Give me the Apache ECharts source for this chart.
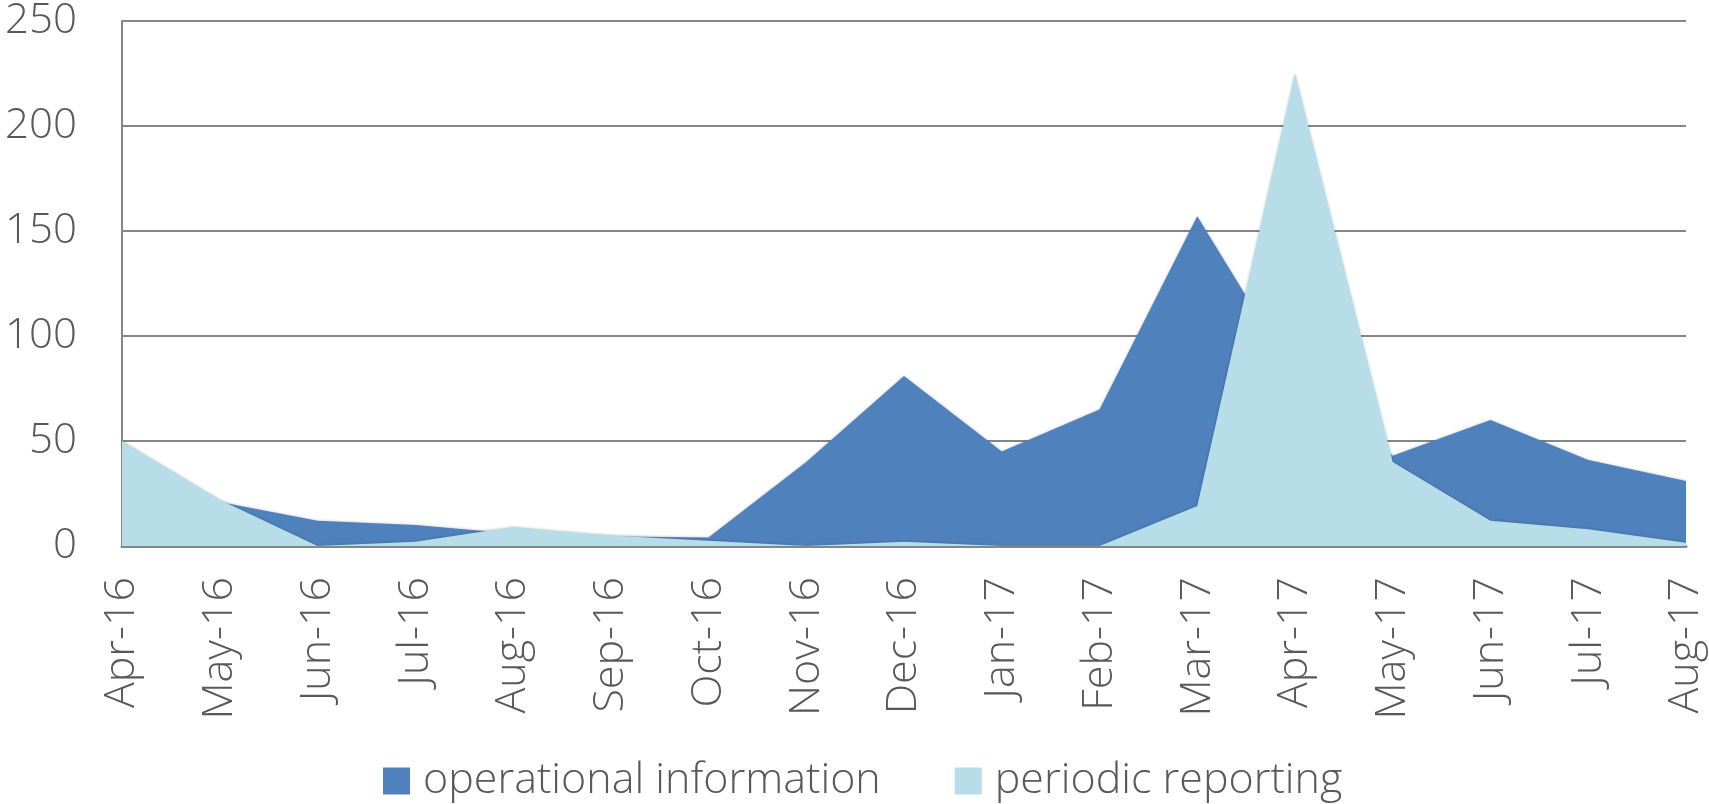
<!DOCTYPE html>
<html>
<head>
<meta charset="utf-8">
<script src="https://cdn.jsdelivr.net/npm/echarts@6/dist/echarts.min.js"></script>
<style>
html,body{margin:0;padding:0;background:#fff;}
#chart{width:1709px;height:804px;}
</style>
</head>
<body>
<div id="chart"></div>
<script>
const categories = ['Apr-16','May-16','Jun-16','Jul-16','Aug-16','Sep-16','Oct-16','Nov-16','Dec-16','Jan-17','Feb-17','Mar-17','Apr-17','May-17','Jun-17','Jul-17','Aug-17'];
const operationalInformation = [30, 21, 12, 10, 6, 4.5, 4, 40, 81, 45, 65, 157, 81, 43, 60, 41, 31];
const periodicReporting = [50, 22, 0, 2, 9, 5, 2.5, 0, 2, 0, 0, 19, 225, 40, 12, 8, 1.5];
const yTicks = [0, 50, 100, 150, 200, 250];

const FONT = '"Open Sans", "Noto Sans", sans-serif';
const TXT = '#595959';

const chart = echarts.init(document.getElementById('chart'), null, {renderer: 'canvas'});
chart.setOption({
  animation: false,
  backgroundColor: '#ffffff',
  grid: {left: 122, right: 23, top: 19.6, bottom: 258, containLabel: false},
  legend: {
    left: 378, top: 754,
    itemWidth: 27, itemHeight: 27, itemGap: 74,
    icon: 'rect',
    textStyle: {fontFamily: FONT, fontSize: 43, fontWeight: 300, color: TXT, lineHeight: 44, padding: [0, 0, 0, 8]},
    data: ['operational information', 'periodic reporting']
  },
  xAxis: {
    type: 'category',
    data: categories,
    boundaryGap: false,
    axisLine: {show: true, lineStyle: {color: '#868686', width: 3}},
    axisTick: {show: false},
    splitLine: {show: false},
    axisLabel: {rotate: 90, margin: 31, fontFamily: FONT, fontSize: 43, fontWeight: 300, color: TXT, interval: 0}
  },
  yAxis: {
    type: 'value',
    min: 0, max: yTicks[yTicks.length - 1], interval: 50,
    axisLine: {show: true, lineStyle: {color: '#868686', width: 2}},
    axisTick: {show: false},
    splitLine: {show: true, lineStyle: {color: '#868686', width: 2}},
    axisLabel: {margin: 45, fontFamily: FONT, fontSize: 42, fontWeight: 300, color: TXT}
  },
  series: [
    {
      name: 'operational information',
      type: 'line',
      data: operationalInformation,
      symbol: 'none',
      lineStyle: {width: 0},
      color: '#4F81BD',
      areaStyle: {color: '#4F81BD', opacity: 1, shadowColor: 'rgba(0,0,0,0.25)', shadowBlur: 3},
      z: 2
    },
    {
      name: 'periodic reporting',
      type: 'line',
      data: periodicReporting,
      symbol: 'none',
      lineStyle: {width: 0},
      color: '#B7DDE8',
      areaStyle: {color: '#B7DDE8', opacity: 1, shadowColor: 'rgba(0,0,0,0.25)', shadowBlur: 3},
      z: 3
    }
  ]
});
</script>
</body>
</html>
